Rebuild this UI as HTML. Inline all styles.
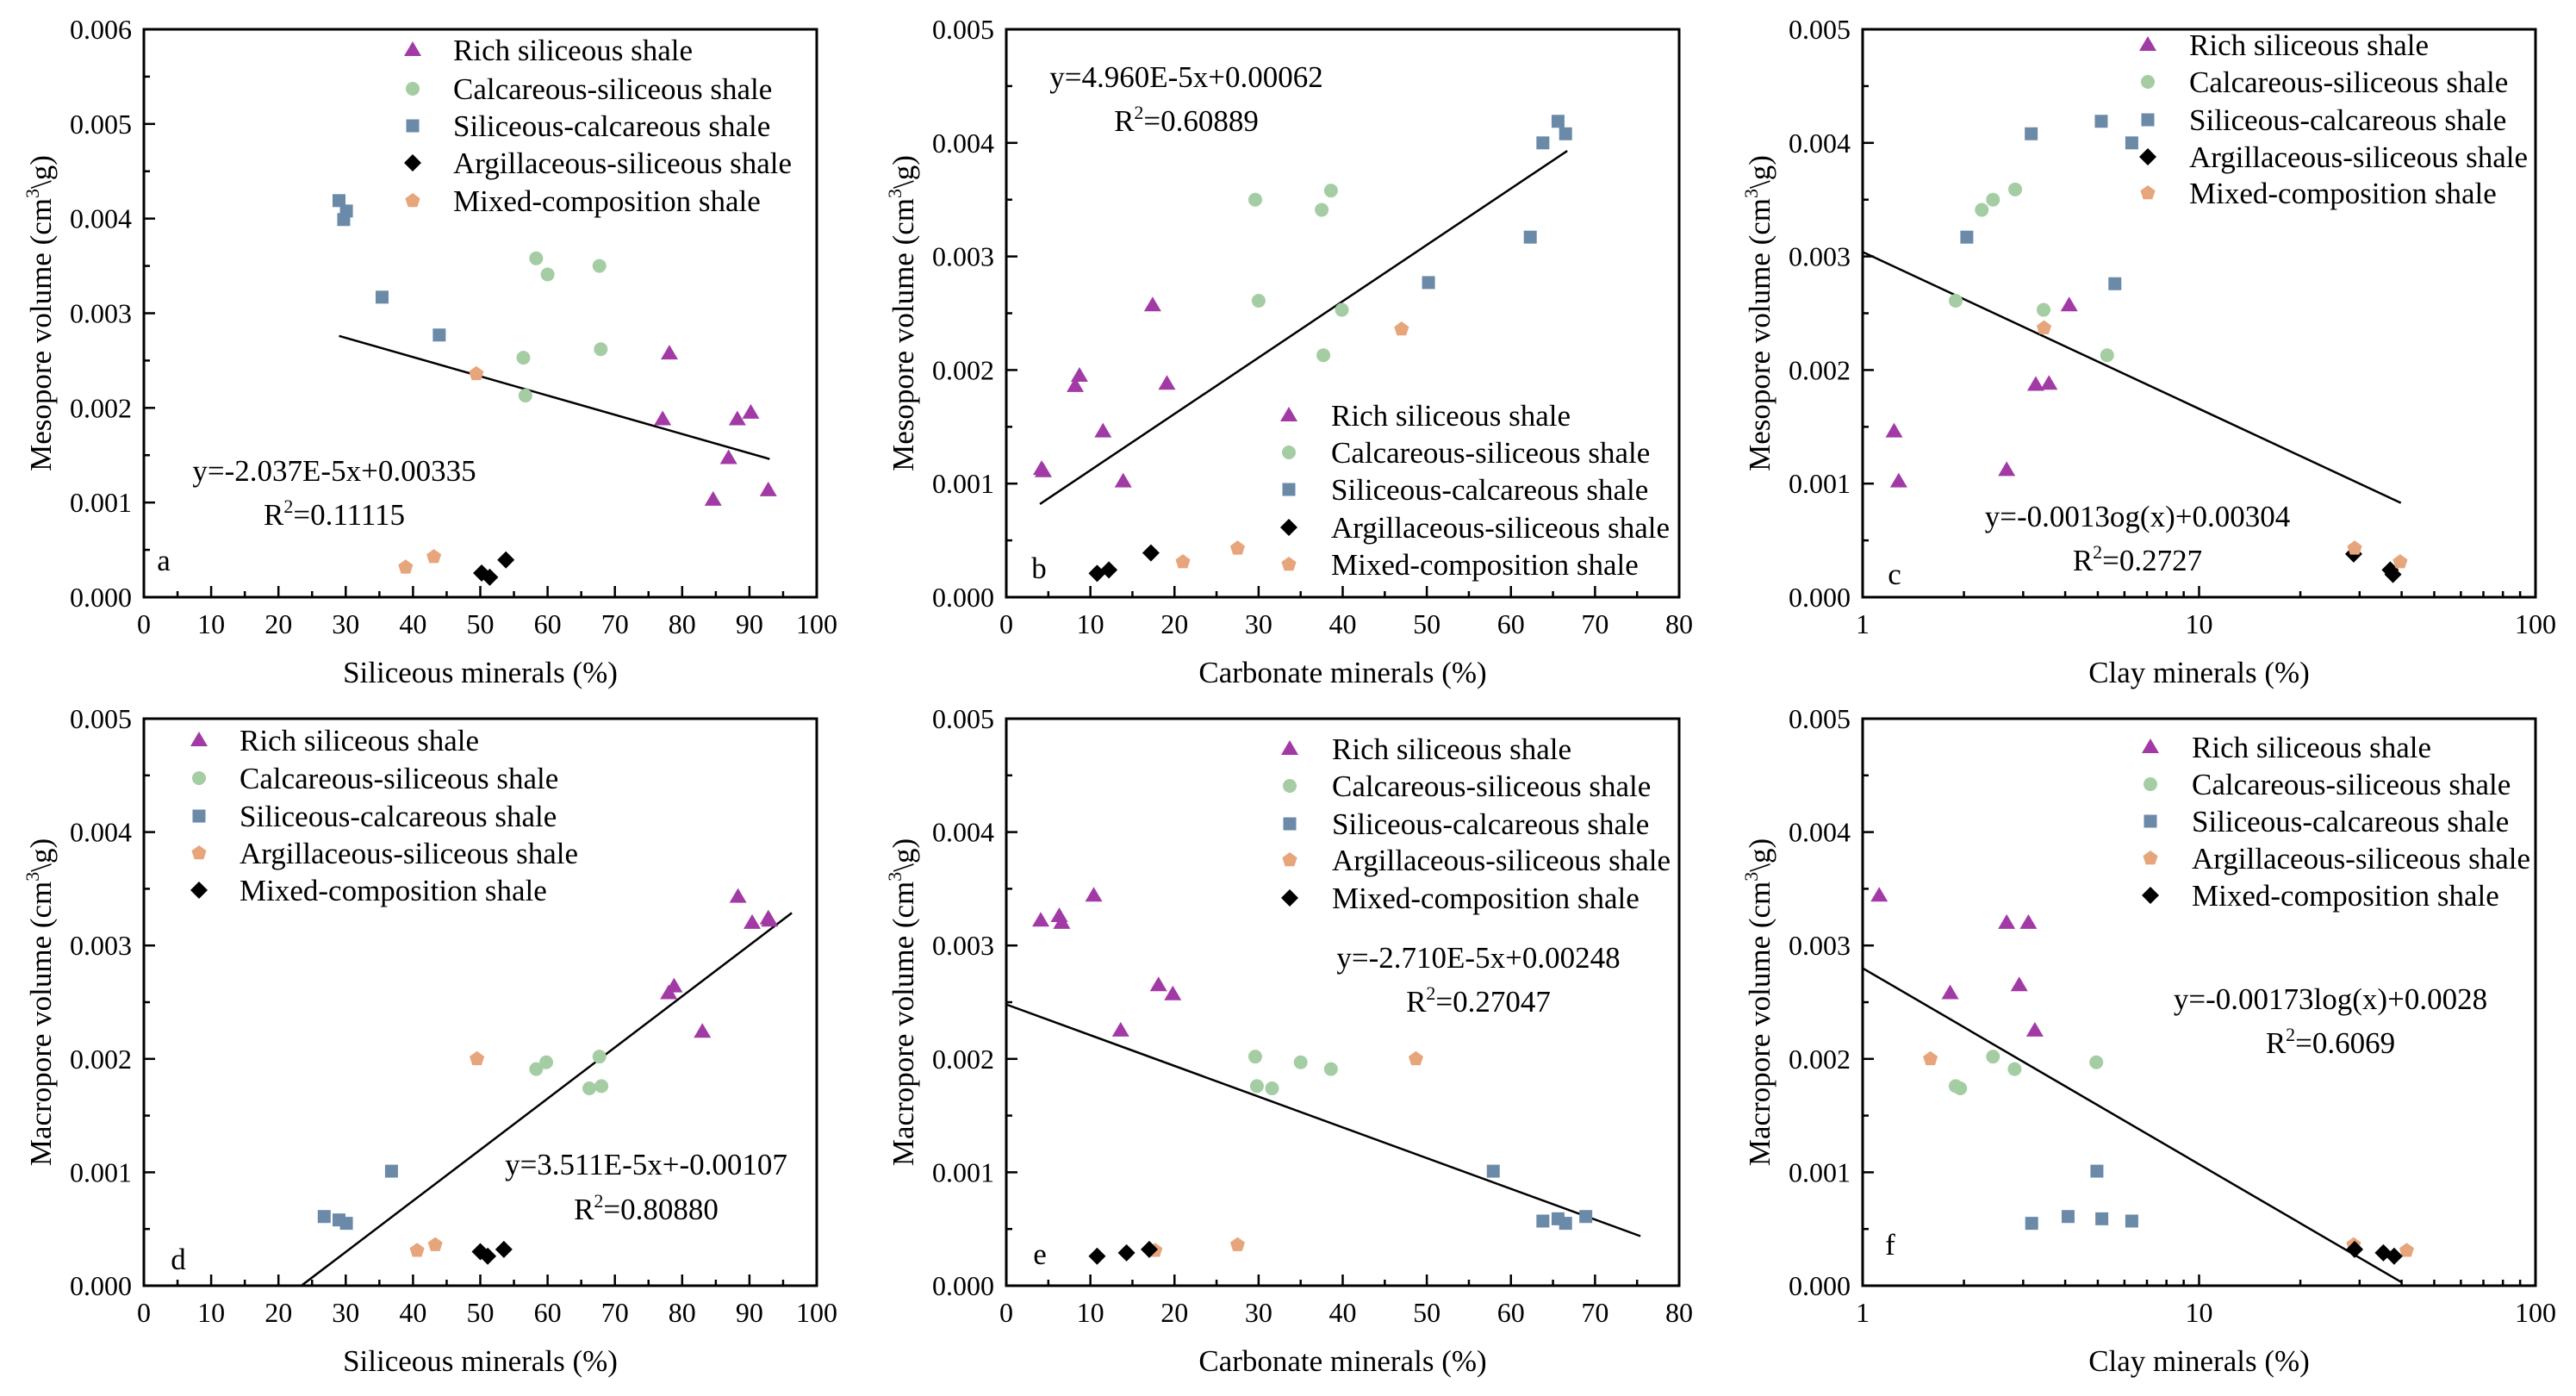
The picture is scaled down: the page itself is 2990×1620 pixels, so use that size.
<!DOCTYPE html>
<html><head><meta charset="utf-8"><style>
html,body{margin:0;padding:0;background:#fff;}
svg{display:block;font-family:"Liberation Serif","DejaVu Serif",serif;}
</style></head><body>
<svg id="fig" width="2990" height="1620" viewBox="0 0 2990 1620" xmlns="http://www.w3.org/2000/svg"></svg>
<script>
// ---- data (per panel small arrays) ----
const aRich=[[78.1,0.002575],[77.1,0.00188],[88.2,0.00188],[90.2,0.00195],[86.9,0.00147],[84.6,0.00103],[92.8,0.00113]];
const aCalc=[[58.3,0.00358],[60.0,0.00341],[67.7,0.0035],[56.4,0.00253],[67.9,0.00262],[56.7,0.00213]];
const aSq=[[29.0,0.00419],[30.1,0.00408],[29.7,0.00399],[35.4,0.00317],[43.9,0.00277]];
const aDia=[[50.2,0.000255],[51.4,0.00021],[53.8,0.000394]];
const aPent=[[38.9,0.000316],[43.1,0.000427],[49.4,0.00236]];
const aFit=[[29,0.00276],[93,0.00146]];

const bRich=[[4.2,0.00113],[4.4,0.00111],[8.2,0.00186],[8.7,0.00195],[11.5,0.00146],[13.9,0.00102],[17.4,0.00257],[19.1,0.00188]];
const bCalc=[[29.6,0.0035],[37.5,0.00341],[38.6,0.00358],[30.0,0.00261],[39.9,0.00253],[37.7,0.00213]];
const bSq=[[65.6,0.00419],[66.5,0.00408],[63.8,0.004],[62.3,0.00317],[50.2,0.00277]];
const bDia=[[10.8,0.00021],[12.2,0.00024],[17.2,0.00039]];
const bPent=[[21.0,0.00031],[27.5,0.00043],[47.0,0.00236]];
const bFit=[[4,0.00082],[66.7,0.00393]];

const cRich=[[1.24,0.00146],[1.28,0.00102],[2.68,0.00112],[3.27,0.00187],[3.58,0.00188],[4.11,0.00257]];
const cCalc=[[1.89,0.00261],[2.26,0.00341],[2.44,0.0035],[2.84,0.00359],[3.45,0.00253],[5.33,0.00213]];
const cSq=[[2.04,0.00317],[3.17,0.00408],[5.12,0.00419],[6.31,0.004],[5.62,0.00276]];
const cDia=[[28.8,0.00038],[37.0,0.00024],[37.7,0.0002]];
const cPent=[[3.46,0.00237],[29.0,0.00043],[39.6,0.00031]];
const cFit=[[1,0.00304],[39.8,0.00083]];

const dRich=[[88.3,0.00343],[90.4,0.0032],[92.8,0.00324],[93.0,0.00322],[78.0,0.00258],[78.8,0.00264],[83.0,0.00224]];
const dCalc=[[58.3,0.00191],[59.8,0.00197],[67.7,0.00202],[66.2,0.00174],[68.0,0.00176]];
const dSq=[[26.8,0.00061],[29.0,0.00058],[30.1,0.00055],[36.8,0.00101]];
const dPent=[[40.6,0.00031],[43.3,0.00036],[49.5,0.002]];
const dDia=[[50.0,0.0003],[51.1,0.00026],[53.5,0.00032]];
const dFit=[[23.4,0],[96.3,0.003287]];

const eRich=[[4.1,0.00322],[6.3,0.00326],[6.6,0.0032],[10.4,0.00344],[18.1,0.00265],[19.8,0.00257],[13.6,0.00225]];
const eCalc=[[29.6,0.00202],[35.0,0.00197],[38.6,0.00191],[29.8,0.00176],[31.6,0.00174]];
const eSq=[[57.9,0.00101],[63.8,0.00057],[65.6,0.00059],[66.5,0.00055],[68.9,0.00061]];
const ePent=[[17.7,0.00031],[27.5,0.00036],[48.7,0.002]];
const eDia=[[10.8,0.00026],[14.3,0.00029],[17.0,0.00032]];
const eFit=[[0,0.00248],[75.4,0.000437]];

const fRich=[[1.12,0.00344],[2.68,0.0032],[3.11,0.0032],[2.92,0.00265],[1.82,0.00258],[3.25,0.00225]];
const fCalc=[[2.44,0.00202],[2.83,0.00191],[4.95,0.00197],[1.89,0.00176],[1.95,0.00174]];
const fSq=[[4.97,0.00101],[3.18,0.00055],[4.08,0.00061],[5.14,0.00059],[6.31,0.00057]];
const fPent=[[1.59,0.002],[28.8,0.00036],[41.4,0.00031]];
const fDia=[[29.0,0.00032],[35.3,0.00029],[38.0,0.00026]];
const fFit=[[1,0.0028],[40,0.00003]];

const linXTicks80=[0,10,20,30,40,50,60,70,80];
const linXTicks100=[0,10,20,30,40,50,60,70,80,90,100];
const logXTicks=[1,10,100];
const yTicks5=[0,0.001,0.002,0.003,0.004,0.005];
const yTicks6=[0,0.001,0.002,0.003,0.004,0.005,0.006];

const C={tri:"#a23aa6",circ:"#a5cda3",sq:"#6b8aa8",dia:"#000000",pent:"#e7a57c"};
const NS="http://www.w3.org/2000/svg";
const svg=document.getElementById('fig');
function el(tag,attrs,parent){const e=document.createElementNS(NS,tag);for(const k in attrs)e.setAttribute(k,attrs[k]);(parent||svg).appendChild(e);return e;}
function marker(g,type,x,y){
  let e;
  if(type==='tri'){e=el('polygon',{points:`${x},${y-10} ${x+10},${y+7} ${x-10},${y+7}`,fill:C.tri},g);}
  else if(type==='circ'){e=el('circle',{cx:x,cy:y,r:8,fill:C.circ},g);}
  else if(type==='sq'){e=el('rect',{x:x-7.5,y:y-7.5,width:15,height:15,fill:C.sq},g);}
  else if(type==='dia'){e=el('polygon',{points:`${x},${y-10} ${x+10},${y} ${x},${y+10} ${x-10},${y}`,fill:C.dia},g);}
  else {let p=[];for(let i=0;i<5;i++){const a=-Math.PI/2+i*2*Math.PI/5;p.push((x+9*Math.cos(a)).toFixed(1)+','+(y+9*Math.sin(a)).toFixed(1));}e=el('polygon',{points:p.join(' '),fill:C.pent},g);}
  return e;
}
function txt(g,s,x,y,size,anchor,extra){const t=el('text',Object.assign({x:x,y:y,'font-size':size,'text-anchor':anchor||'start',fill:'#000'},extra||{}),g);t.textContent=s;return t;}

function panel(o){
  const g=el('g',{});
  
  
  const L=o.L,R=o.R,T=o.T,B=o.B;
  const xs=o.log?(v=>L+(Math.log10(v))/2*(R-L)):(v=>L+v/o.xmax*(R-L));
  const ys=v=>B-v/o.ymax*(B-T);
  const tk=el('g',{stroke:'#000','stroke-width':2.5},g);
  
  
  if(o.log){
    for(let d=1;d<100;d*=10){for(let m=1;m<10;m++){const v=d*m;const x=xs(v);el('line',{x1:x,x2:x,y1:B,y2:B-(m===1?13:7)},tk);}}
  } else {
    for(let v=0;v<=o.xmax;v+=5){const x=xs(v);el('line',{x1:x,x2:x,y1:B,y2:B-(v%10===0?13:7)},tk);}
  }
  const ytg=el('g',{stroke:'#000','stroke-width':2.5},g);
  
  
  for(let i=0;i<=Math.round(o.ymax/0.0005);i++){const v=i*0.0005;const y=ys(v);el('line',{x1:L,x2:L+(i%2===0?13:7),y1:y,y2:y},ytg);}
  const fr=el('rect',{x:L,y:T,width:R-L,height:B-T,fill:'none',stroke:'#000','stroke-width':3},g);
  
  
  const xl=el('g',{},g);
  
  
  o.xticks.forEach(v=>txt(xl,String(v),xs(v),B+42,32,'middle'));
  const yl=el('g',{},g);
  
  
  o.yticks.forEach(v=>txt(yl,v.toFixed(3),L-14,ys(v)+11,32,'end'));
  const xt=txt(g,o.xtitle,(L+R)/2,B+99,35,'middle');
  
  
  const cy=(T+B)/2;
  const yt=el('text',{x:0,y:0,'font-size':35,'text-anchor':'middle',transform:`translate(${L-108},${cy}) rotate(-90)`},g);
  
  
  yt.appendChild(document.createTextNode(o.ytitle+' (cm'));
  const sup=el('tspan',{'font-size':22,dy:-14},yt);sup.textContent='3';
  const rest=el('tspan',{dy:14},yt);rest.textContent='\\g)';
  const fl=el('line',{x1:xs(o.fit[0][0]),y1:ys(o.fit[0][1]),x2:xs(o.fit[1][0]),y2:ys(o.fit[1][1]),stroke:'#000','stroke-width':2.5},g);
  
  
  o.series.forEach(s=>{
    const sg=el('g',{},g);
    
    
    s.data.forEach(p=>{const m=marker(sg,s.type,xs(p[0]),ys(p[1]));
      
      });
  });
  const lg=el('g',{},g);
  
  
  o.series.forEach((s,i)=>{
    const y=o.legY[i];
    const e=el('g',{},lg);
    
    
    marker(e,s.type,o.legMX,y);
    txt(e,s.label,o.legTX,y+12,35,'start');
  });
  const eq=el('g',{},g);
  
  
  txt(eq,o.eq,o.eqX,o.eqY+12,35,'middle');
  const r=el('text',{x:o.eqX,y:o.rY+12,'font-size':35,'text-anchor':'middle'},eq);
  r.appendChild(document.createTextNode('R'));
  const s2=el('tspan',{'font-size':22,dy:-14},r);s2.textContent='2';
  const r3=el('tspan',{dy:14},r);r3.textContent=o.r2;
  const lab=txt(g,o.id,o.labX,o.labY+10,35,'middle');
  
  
}
const names1=['Rich siliceous shale','Calcareous-siliceous shale','Siliceous-calcareous shale','Argillaceous-siliceous shale','Mixed-composition shale'];
function ser1(r,c,s,d,p){return [{name:'rich',type:'tri',label:names1[0],data:r},{name:'calcareous',type:'circ',label:names1[1],data:c},{name:'siliceous-calcareous',type:'sq',label:names1[2],data:s},{name:'argillaceous',type:'dia',label:names1[3],data:d},{name:'mixed',type:'pent',label:names1[4],data:p}];}
function ser2(r,c,s,p,d){return [{name:'rich',type:'tri',label:names1[0],data:r},{name:'calcareous',type:'circ',label:names1[1],data:c},{name:'siliceous-calcareous',type:'sq',label:names1[2],data:s},{name:'argillaceous',type:'pent',label:names1[3],data:p},{name:'mixed',type:'dia',label:names1[4],data:d}];}
const rowTop={T:34,B:693},rowBot={T:834,B:1492};
const colA={L:167,R:948},colB={L:1168,R:1949},colC={L:2162,R:2943};

panel(Object.assign({id:'a',xmax:100,ymax:0.006,xticks:linXTicks100,yticks:yTicks6,xtitle:'Siliceous minerals (%)',ytitle:'Mesopore volume',fit:aFit,series:ser1(aRich,aCalc,aSq,aDia,aPent),legMX:479,legTX:526,legY:[58,103,146,189,233],eq:'y=-2.037E-5x+0.00335',r2:'=0.11115',eqX:388,eqY:546,rY:597,labX:190,labY:652},colA,rowTop));
panel(Object.assign({id:'b',xmax:80,ymax:0.005,xticks:linXTicks80,yticks:yTicks5,xtitle:'Carbonate minerals (%)',ytitle:'Mesopore volume',fit:bFit,series:ser1(bRich,bCalc,bSq,bDia,bPent),legMX:1496,legTX:1545,legY:[482,525,568,612,655],eq:'y=4.960E-5x+0.00062',r2:'=0.60889',eqX:1377,eqY:89,rY:140,labX:1206,labY:661},colB,rowTop));
panel(Object.assign({id:'c',log:true,ymax:0.005,xticks:logXTicks,yticks:yTicks5,xtitle:'Clay minerals (%)',ytitle:'Mesopore volume',fit:cFit,series:ser1(cRich,cCalc,cSq,cDia,cPent),legMX:2493,legTX:2541,legY:[52,95,139,182,224],eq:'y=-0.0013og(x)+0.00304',r2:'=0.2727',eqX:2481,eqY:599,rY:650,labX:2199,labY:668},colC,rowTop));
panel(Object.assign({id:'d',xmax:100,ymax:0.005,xticks:linXTicks100,yticks:yTicks5,xtitle:'Siliceous minerals (%)',ytitle:'Macropore volume',fit:dFit,series:ser2(dRich,dCalc,dSq,dPent,dDia),legMX:231,legTX:278,legY:[859,903,947,990,1033],eq:'y=3.511E-5x+-0.00107',r2:'=0.80880',eqX:750,eqY:1351,rY:1403,labX:207,labY:1463},colA,rowBot));
panel(Object.assign({id:'e',xmax:80,ymax:0.005,xticks:linXTicks80,yticks:yTicks5,xtitle:'Carbonate minerals (%)',ytitle:'Macropore volume',fit:eFit,series:ser2(eRich,eCalc,eSq,ePent,eDia),legMX:1497,legTX:1546,legY:[869,912,956,998,1042],eq:'y=-2.710E-5x+0.00248',r2:'=0.27047',eqX:1716,eqY:1111,rY:1162,labX:1207,labY:1457},colB,rowBot));
panel(Object.assign({id:'f',log:true,ymax:0.005,xticks:logXTicks,yticks:yTicks5,xtitle:'Clay minerals (%)',ytitle:'Macropore volume',fit:fFit,series:ser2(fRich,fCalc,fSq,fPent,fDia),legMX:2496,legTX:2544,legY:[867,910,953,996,1039],eq:'y=-0.00173log(x)+0.0028',r2:'=0.6069',eqX:2705,eqY:1159,rY:1210,labX:2194,labY:1446},colC,rowBot));
</script>
</body></html>
